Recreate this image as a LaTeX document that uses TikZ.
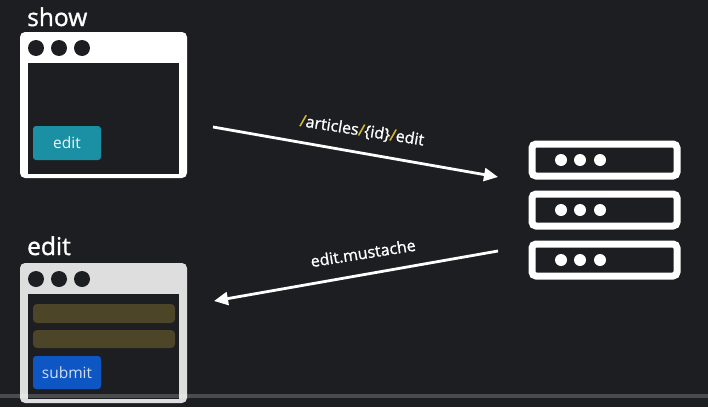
\documentclass[tikz,border=0pt]{standalone}
\usepackage{fontspec}
\setmainfont{Open Sans}
\newfontfamily\heavysans[FakeBold=1.2]{Open Sans}
\usetikzlibrary{arrows.meta}

\definecolor{bgdark}{HTML}{1D1E21}
\definecolor{framegray}{HTML}{DEDEDE}
\definecolor{tealbtn}{HTML}{1B8FA3}
\definecolor{olivebar}{HTML}{4D4527}
\definecolor{bluebtn}{HTML}{0D56C4}
\definecolor{slashyellow}{HTML}{D8B92C}

\tikzset{
  title/.style={anchor=base west, text=white, font=\heavysans\fontsize{24.5}{28}\selectfont, inner sep=0pt},
  btntext/.style={font=\fontsize{15.5}{18}\selectfont, inner sep=0pt},
  flowlabel/.style={text=white, font=\heavysans\fontsize{16}{19}\selectfont, inner sep=0pt},
  flow/.style={draw=white, line width=2.8pt, -{Triangle[length=14pt,width=13pt]}},
  rack/.style={draw=white, line width=7pt, rounded corners=4pt, fill=bgdark},
  rackdot/.style={fill=white, draw=none},
  tabdot/.style={fill=bgdark, draw=none},
}

\newcommand{\browserwin}[4]{%
  % #1 top, #2 bottom, #3 frame colour, #4 name
  \fill[#3, rounded corners=5pt] (20,#1) rectangle (187,#2);
  \fill[bgdark] (28,#1+31) rectangle (179,#2-4);
  \foreach \dx in {36,59,82} \fill[tabdot] (\dx,#1+16) circle (8);
  \coordinate (#4) at (103.5,#1);
}

\begin{document}
\begin{tikzpicture}[x=1pt,y=-1pt]
  \fill[bgdark] (0,0) rectangle (708,407);
  \useasboundingbox (0,0) rectangle (708,407);

  % "show" page
  \node[title] (showlbl) at (27,26) {show};
  \browserwin{32}{178}{white}{showwin}
  \fill[tealbtn, rounded corners=3pt] (33,126) rectangle (101,160);
  \node[btntext, text=white!92!tealbtn] (editbtn) at (67,143) {edit};

  % "edit" page
  \node[title] (editlbl) at (27,255) {edit};
  \browserwin{263}{403}{framegray}{editwin}
  \fill[olivebar, rounded corners=4pt] (33,304) rectangle (175,323);
  \fill[olivebar, rounded corners=4pt] (33,330) rectangle (175,348);
  \fill[bluebtn, rounded corners=3pt] (33,356) rectangle (101,389);
  \node[btntext, text=white!80!bluebtn] (submitbtn) at (67,373) {submit};

  % server rack
  \foreach \y/\n in {160/r1,210/r2,260/r3} {
    \draw[rack] (532,\y-16) rectangle (677,\y+16);
    \node[inner sep=0pt, minimum size=0pt] (\n) at (604,\y) {};
    \foreach \dx in {561,580,600} \fill[rackdot] (\dx,\y) circle (6);
  }

  % request and response
  \coordinate (reqfrom) at (213,127);
  \coordinate (reqto) at (498,177);
  \coordinate (resfrom) at (498,251);
  \coordinate (resto) at (214,301);
  \draw[flow] (reqfrom) -- (reqto);
  \draw[flow] (resfrom) -- (resto);

  \node[flowlabel, rotate=-9] (reqlbl) at (362,131)
    {\textcolor{slashyellow}{/}articles\textcolor{slashyellow}{/}\{id\}\textcolor{slashyellow}{/}edit};
  \node[flowlabel, rotate=9] (reslbl) at (363,253) {edit.mustache};

  % playback bar
  \fill[white, opacity=0.2] (0,394) rectangle (708,398);
\end{tikzpicture}
\end{document}
